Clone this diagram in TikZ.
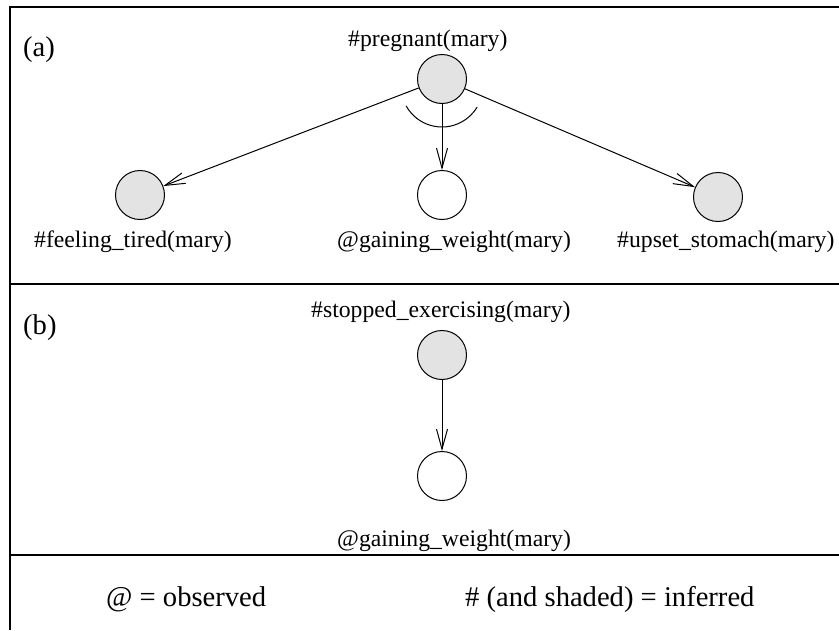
\documentclass[tikz,border=0pt]{standalone}
\usepackage{fontspec}
\setmainfont{Liberation Serif}
\usetikzlibrary{arrows.meta}
\begin{document}
\begin{tikzpicture}[x=1pt,y=-1pt,
  state/.style={circle,draw,line width=1pt,minimum size=49pt,inner sep=0pt},
  inferred/.style={state,fill=black!11},
  observed/.style={state,fill=white},
  lbl/.style={anchor=base west,inner sep=0pt,font=\fontsize{23.7}{28}\selectfont},
  biglbl/.style={anchor=base west,inner sep=0pt,font=\fontsize{28.6}{34}\selectfont},
  link/.style={line width=1pt,-{Straight Barb[length=20pt,width=11pt]}},
  frame/.style={line width=1.6pt}]
\useasboundingbox (0,0) rectangle (839,630);

% panel frame and separators
\coordinate (tl) at (10,7);
\coordinate (tr) at (839,7);
\coordinate (bl) at (10,630);
\coordinate (m1l) at (10,284);
\coordinate (m1r) at (839,284);
\coordinate (m2l) at (10,555);
\coordinate (m2r) at (839,555);
\draw[frame] (bl) -- (tl) -- (tr);
\draw[frame] (m1l) -- (m1r);
\draw[frame] (m2l) -- (m2r);

% panel (a)
\node[biglbl] (la) at (23,56) {(a)};
\node[inferred] (preg) at (442,79) {};
\node[inferred] (tired) at (140,195) {};
\node[observed] (gainA) at (442,195) {};
\node[inferred] (upset) at (718,197) {};
\node[lbl] (tpreg) at (348,46) {\#pregnant(mary)};
\node[lbl] (ttired) at (34,247) {\#feeling\_tired(mary)};
\node[lbl] (tgainA) at (337,247) {@gaining\_weight(mary)};
\node[lbl] (tupset) at (617,247) {\#upset\_stomach(mary)};
\draw[link] (preg) -- (tired);
\draw[link] (preg) -- (gainA);
\draw[link] (preg) -- (upset);
\coordinate (fork) at (442,86);
\draw[line width=1pt] (fork) ++(151:41) arc[start angle=151,end angle=31,radius=41];

% panel (b)
\node[biglbl] (lb) at (23,334) {(b)};
\node[inferred] (stop) at (442,355) {};
\node[observed] (gainB) at (442,476) {};
\node[lbl] (tstop) at (311,317) {\#stopped\_exercising(mary)};
\node[lbl] (tgainB) at (337,546) {@gaining\_weight(mary)};
\draw[link] (stop) -- (gainB);

% legend
\node[biglbl] (kobs) at (106,606) {@ = observed};
\node[biglbl] (kinf) at (465,606) {\# (and shaded) = inferred};
\end{tikzpicture}
\end{document}
